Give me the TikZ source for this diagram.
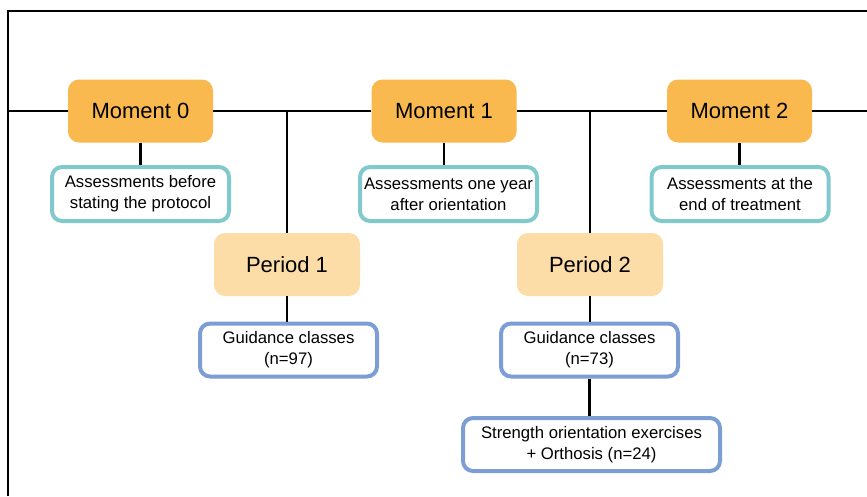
\documentclass[tikz,border=0pt]{standalone}
\usepackage{fontspec}
\setmainfont{Liberation Sans}
\usetikzlibrary{positioning}

\definecolor{momentorange}{HTML}{F9B94F}
\definecolor{periodpeach}{HTML}{FCDDA8}
\definecolor{assessteal}{HTML}{80CACD}
\definecolor{classblue}{HTML}{7C9ED4}

\begin{document}
\begin{tikzpicture}[x=1pt,y=-1pt,
	moment/.style={fill=momentorange, rounded corners=11pt, minimum width=145pt, minimum height=63pt, font=\fontsize{22}{26}\selectfont},
	period/.style={fill=periodpeach, rounded corners=11pt, minimum width=146pt, minimum height=63pt, font=\fontsize{22}{26}\selectfont},
	assess/.style={draw=assessteal, line width=4pt, fill=white, rounded corners=10pt, minimum width=177pt, minimum height=54pt, align=center, inner sep=0pt, font=\fontsize{16.7}{21}\selectfont},
	classes/.style={draw=classblue, line width=4pt, fill=white, rounded corners=10pt, minimum width=177pt, minimum height=53pt, align=center, inner sep=0pt, font=\fontsize{16.7}{21}\selectfont},
	link/.style={line width=2.2pt}]
	\useasboundingbox (0,0) rectangle (867,496);
	% frame
	\draw[link] (8,496) -- (8,11) -- (867,11);
	% time line ends
	\coordinate (tl) at (8,111);
	\coordinate (tr) at (867,111);
	
	\node[moment] (m0) at (140.5,111) {Moment 0};
	\node[moment] (m1) at (444,111) {Moment 1};
	\node[moment] (m2) at (739.5,111) {Moment 2};
	
	\node[assess] (a0) at (140.5,194) {Assessments before\\stating the protocol};
	\node[assess] (a1) at (448.5,194) {Assessments one year\\after orientation};
	\node[assess] (a2) at (740,194) {Assessments at the\\end of treatment};
	
	\node[period] (p1) at (287,264.5) {Period 1};
	\node[period] (p2) at (590,264.5) {Period 2};
	
	\node[classes] (g1) at (288.5,350) {Guidance classes\\(n=97)};
	\node[classes] (g2) at (589.5,350) {Guidance classes\\(n=73)};
	\node[classes, minimum width=257pt] (g3) at (591.5,444.5) {Strength orientation exercises\\+ Orthosis (n=24)};
	
	% time line
	\draw[link] (tl) -- (m0) -- (m1) -- (m2) -- (tr);
	\draw[link] (m0) -- (a0);
	\draw[link] (m1.south) -- (m1.south |- a1.north);
	\draw[link] (m2.south) -- (m2.south |- a2.north);
	
	% periods
	\draw[link] (p1.north) -- (p1.north |- tl);
	\draw[link] (p2.north) -- (p2.north |- tl);
	\draw[link] (p1.south) -- (p1.south |- g1.north);
	\draw[link] (p2.south) -- (p2.south |- g2.north);
	\draw[link] (g2.south) -- (g2.south |- g3.north);
\end{tikzpicture}
\end{document}
